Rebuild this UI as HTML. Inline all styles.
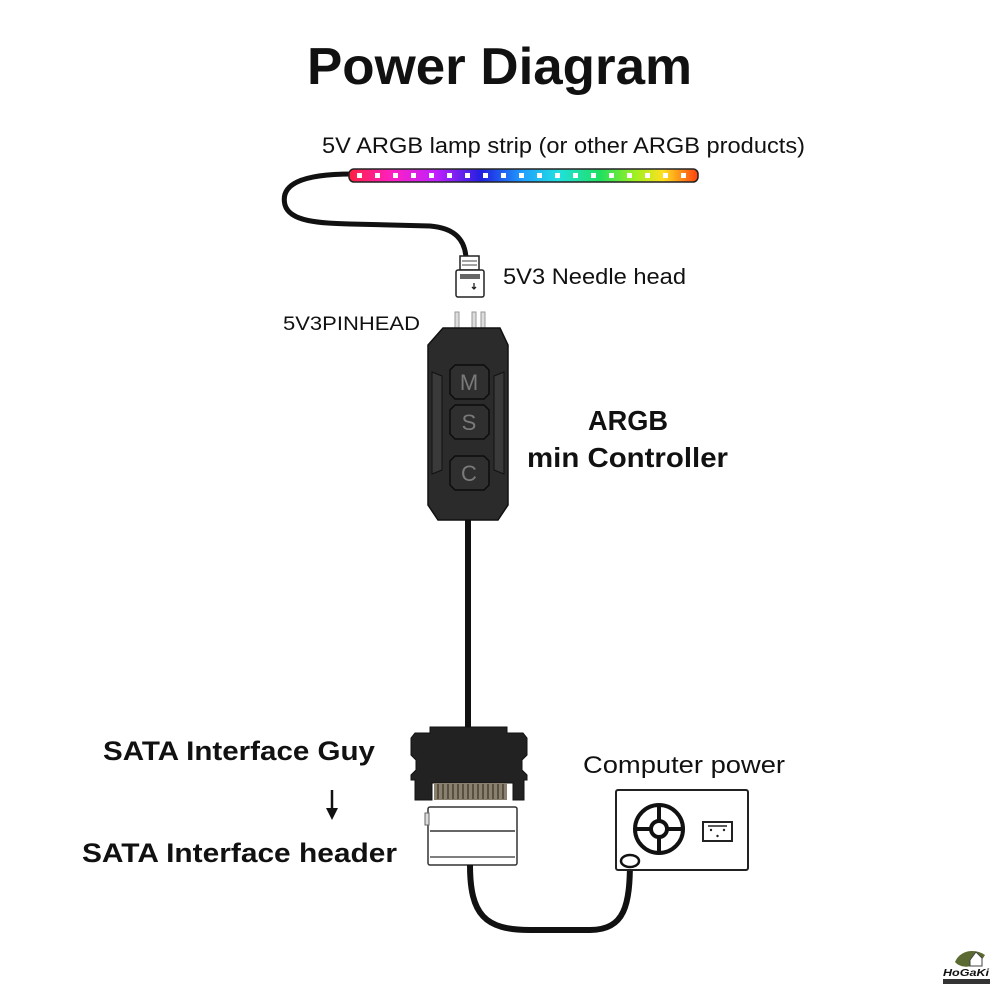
<!DOCTYPE html>
<html><head><meta charset="utf-8"><style>
html,body{margin:0;padding:0;background:#fff;}
svg{display:block;}
text{font-family:"Liberation Sans",sans-serif;fill:#111;}
</style></head><body>
<svg width="1001" height="1001" viewBox="0 0 1001 1001" xmlns="http://www.w3.org/2000/svg">
<defs>
<linearGradient id="rb" x1="0" x2="1">
<stop offset="0" stop-color="#ff2040"/><stop offset="0.12" stop-color="#ff20c0"/>
<stop offset="0.25" stop-color="#c020ff"/><stop offset="0.38" stop-color="#2020e0"/>
<stop offset="0.5" stop-color="#20a0ff"/><stop offset="0.6" stop-color="#20e0e0"/>
<stop offset="0.72" stop-color="#20e060"/><stop offset="0.82" stop-color="#a0f020"/>
<stop offset="0.9" stop-color="#ffe020"/><stop offset="1" stop-color="#ff4010"/>
</linearGradient>
</defs>
<text x="307" y="84" font-size="52" font-weight="bold" textLength="385" lengthAdjust="spacingAndGlyphs">Power Diagram</text>
<text x="322" y="153" font-size="22" textLength="483" lengthAdjust="spacingAndGlyphs">5V ARGB lamp strip (or other ARGB products)</text>
<!-- cable -->
<path d="M352,174 C300,174 280,185 285,205 C290,222 320,223 350,224 L430,226 C455,228 465,240 466,258" fill="none" stroke="#111" stroke-width="5"/>
<!-- strip -->
<rect x="349" y="169" width="349" height="13" rx="5" fill="url(#rb)" stroke="#222" stroke-width="1.5"/>
<g fill="#fff">
<rect x="357" y="173" width="5" height="5"/><rect x="375" y="173" width="5" height="5"/><rect x="393" y="173" width="5" height="5"/>
<rect x="411" y="173" width="5" height="5"/><rect x="429" y="173" width="5" height="5"/><rect x="447" y="173" width="5" height="5"/>
<rect x="465" y="173" width="5" height="5"/><rect x="483" y="173" width="5" height="5"/><rect x="501" y="173" width="5" height="5"/>
<rect x="519" y="173" width="5" height="5"/><rect x="537" y="173" width="5" height="5"/><rect x="555" y="173" width="5" height="5"/>
<rect x="573" y="173" width="5" height="5"/><rect x="591" y="173" width="5" height="5"/><rect x="609" y="173" width="5" height="5"/>
<rect x="627" y="173" width="5" height="5"/><rect x="645" y="173" width="5" height="5"/><rect x="663" y="173" width="5" height="5"/>
<rect x="681" y="173" width="5" height="5"/>
</g>
<!-- needle head -->
<rect x="460" y="256" width="19" height="14" fill="#fff" stroke="#222" stroke-width="1.5"/>
<line x1="462" y1="261" x2="477" y2="261" stroke="#444"/><line x1="462" y1="265" x2="477" y2="265" stroke="#444"/>
<rect x="456" y="270" width="28" height="27" rx="2" fill="#fff" stroke="#222" stroke-width="1.5"/>
<rect x="460" y="274" width="20" height="5" fill="#666"/>
<path d="M474,283 v6 m-2,-2 l2,2 l2,-2" stroke="#222" stroke-width="1.3" fill="none"/>
<text x="503" y="284" font-size="22" textLength="183" lengthAdjust="spacingAndGlyphs">5V3 Needle head</text>
<text x="283" y="330" font-size="19" textLength="137" lengthAdjust="spacingAndGlyphs">5V3PINHEAD</text>
<!-- pins -->
<g fill="#ddd" stroke="#999"><rect x="455" y="312" width="4" height="20"/><rect x="472" y="312" width="4" height="20"/><rect x="481" y="312" width="4" height="20"/></g>
<!-- controller -->
<path d="M443,328 L500,328 L508,345 L508,505 L498,520 L438,520 L428,505 L428,345 Z" fill="#2b2b2b" stroke="#111" stroke-width="1.5"/>
<path d="M432,372 L442,376 L442,470 L432,474 Z M504,372 L494,376 L494,470 L504,474 Z" fill="#3a3a3a" stroke="#111"/>
<g fill="#2f2f2f" stroke="#0c0c0c" stroke-width="1.5">
<path d="M455,365 H484 L489,370 V394 L484,399 H455 L450,394 V370 Z"/>
<path d="M455,405 H484 L489,410 V434 L484,439 H455 L450,434 V410 Z"/>
<path d="M455,456 H484 L489,461 V485 L484,490 H455 L450,485 V461 Z"/>
</g>
<g font-size="22" fill="#777" style="fill:#7a7a7a" text-anchor="middle">
<text x="469" y="390" style="fill:#7a7a7a">M</text><text x="469" y="430" style="fill:#7a7a7a">S</text><text x="469" y="481" style="fill:#7a7a7a">C</text>
</g>
<text x="588" y="430" font-size="28" font-weight="bold" textLength="80" lengthAdjust="spacingAndGlyphs">ARGB</text>
<text x="527" y="467" font-size="28" font-weight="bold" textLength="201" lengthAdjust="spacingAndGlyphs">min Controller</text>
<!-- vertical cable -->
<rect x="465" y="520" width="6" height="210" fill="#111"/>
<!-- SATA black -->
<path d="M430,727 H507 V733 H523 L527,738 V755 L522,760 V770 L527,775 V780 H524 V800 H513 V783 H432 V800 H415 V780 H411 V775 L416,770 V760 L411,755 V738 L415,733 H430 Z" fill="#222" stroke="#111"/>
<rect x="434" y="783" width="73" height="17" fill="#8a8070"/>
<g stroke="#4a4030" stroke-width="1.5">
<line x1="438" y1="784" x2="438" y2="799"/><line x1="443" y1="784" x2="443" y2="799"/><line x1="448" y1="784" x2="448" y2="799"/><line x1="453" y1="784" x2="453" y2="799"/><line x1="458" y1="784" x2="458" y2="799"/><line x1="463" y1="784" x2="463" y2="799"/><line x1="468" y1="784" x2="468" y2="799"/><line x1="473" y1="784" x2="473" y2="799"/><line x1="478" y1="784" x2="478" y2="799"/><line x1="483" y1="784" x2="483" y2="799"/><line x1="488" y1="784" x2="488" y2="799"/><line x1="493" y1="784" x2="493" y2="799"/><line x1="498" y1="784" x2="498" y2="799"/><line x1="503" y1="784" x2="503" y2="799"/>
</g>
<!-- SATA white header -->
<rect x="428" y="807" width="89" height="58" rx="2" fill="#fff" stroke="#333" stroke-width="1.5"/>
<line x1="430" y1="831" x2="515" y2="831" stroke="#333" stroke-width="1.5"/>
<line x1="430" y1="857" x2="515" y2="857" stroke="#333" stroke-width="1.2"/>
<rect x="425" y="813" width="4" height="12" fill="#ddd" stroke="#666"/>
<!-- bottom cable -->
<path d="M470,865 C470,915 485,930 530,930 L590,930 C625,930 630,905 630,860" fill="none" stroke="#111" stroke-width="6"/>
<!-- PSU -->
<rect x="616" y="790" width="132" height="80" rx="2" fill="#fff" stroke="#222" stroke-width="2"/>
<circle cx="659" cy="829" r="24" fill="none" stroke="#111" stroke-width="4"/>
<circle cx="659" cy="829" r="8" fill="none" stroke="#111" stroke-width="4"/>
<g stroke="#111" stroke-width="4"><line x1="659" y1="805" x2="659" y2="821"/><line x1="659" y1="837" x2="659" y2="853"/><line x1="635" y1="829" x2="651" y2="829"/><line x1="667" y1="829" x2="683" y2="829"/></g>
<path d="M703,822 H732 V841 H703 Z" fill="#fff" stroke="#222" stroke-width="2"/>
<path d="M708,826 H727" stroke="#222" stroke-width="1.5"/>
<circle cx="711" cy="830" r="1.2" fill="#222"/><circle cx="724" cy="830" r="1.2" fill="#222"/><circle cx="717.5" cy="836" r="1.2" fill="#222"/>
<ellipse cx="630" cy="861" rx="9" ry="6" fill="none" stroke="#111" stroke-width="2.5"/>
<text x="583" y="773" font-size="24" textLength="202" lengthAdjust="spacingAndGlyphs">Computer power</text>
<!-- left labels -->
<text x="103" y="760" font-size="27" font-weight="bold" textLength="272" lengthAdjust="spacingAndGlyphs">SATA Interface Guy</text>
<path d="M332,790 V812" stroke="#111" stroke-width="2.5"/>
<path d="M326,808 L332,820 L338,808 Z" fill="#111"/>
<text x="82" y="862" font-size="27" font-weight="bold" textLength="315" lengthAdjust="spacingAndGlyphs">SATA Interface header</text>
<!-- logo -->
<path d="M955,962 C960,950 975,948 985,955 C978,968 962,970 955,962 Z" fill="#5a6a30"/>
<path d="M970,960 L976,952 L982,958 V966 H970 Z" fill="#fff" stroke="#444" stroke-width="1"/>
<text x="943" y="976" font-size="10" font-weight="bold" font-style="italic" textLength="46" lengthAdjust="spacingAndGlyphs">HoGaKi</text>
<rect x="943" y="979" width="47" height="5" fill="#333"/>
</svg>
</body></html>
